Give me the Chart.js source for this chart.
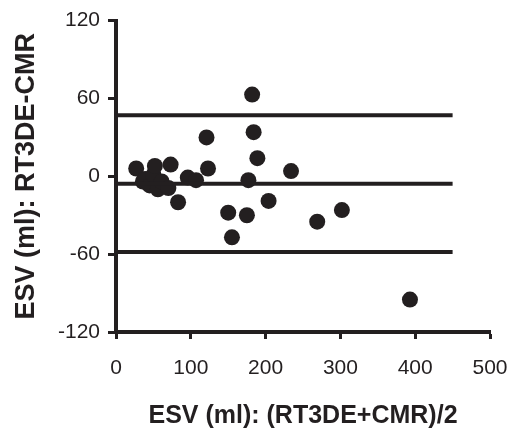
<!DOCTYPE html>
<html>
<head>
<meta charset="utf-8">
<script src="https://cdn.jsdelivr.net/npm/chart.js@4/dist/chart.umd.min.js"></script>
<style>
  html, body { margin: 0; padding: 0; background: #fff; }
  #wrap { width: 508px; height: 430px; position: relative; }
</style>
</head>
<body>
<div id="wrap"><canvas id="esvChart"></canvas></div>
<script>
// Bland-Altman: mean of the two methods vs their difference (ml)
const meanEsv = [27, 36, 39, 45, 50, 52, 56, 61, 70, 73, 83, 96, 107, 121, 123,
                 150, 155, 175, 177, 182, 184, 189, 204, 234, 269, 302, 393];
const diffEsv = [6, -4, -2, -7, 1, 8, -10, -4, -9, 9, -20, -1, -3, 30, 6,
                 -28, -47, -30, -3, 63, 34, 14, -19, 4, -35, -26, -95];

const xTicks = [0, 100, 200, 300, 400, 500];
const yTicks = [-120, -60, 0, 60, 120];

// bias and limits of agreement
const bias = -5.7;
const upperLimit = 47;
const lowerLimit = -58.4;
const lineStart = 0;
const lineEnd = 450;

const ink = '#231f20';
const face = 'Liberation Sans, Arial, sans-serif';

const points = meanEsv.map((x, i) => ({ x: x, y: diffEsv[i] }));
const hLine = (y) => [{ x: lineStart, y: y }, { x: lineEnd, y: y }];

const lineStyle = {
  type: 'line',
  borderColor: ink,
  borderWidth: 4,
  pointRadius: 0,
  fill: false,
  tension: 0
};

const ctx = document.getElementById('esvChart').getContext('2d');
new Chart(ctx, {
  type: 'scatter',
  data: {
    datasets: [
      { ...lineStyle, data: hLine(upperLimit) },
      { ...lineStyle, data: hLine(bias) },
      { ...lineStyle, data: hLine(lowerLimit) },
      {
        data: points,
        pointRadius: 8,
        pointHoverRadius: 8,
        backgroundColor: ink,
        borderWidth: 0
      }
    ]
  },
  options: {
    responsive: true,
    maintainAspectRatio: false,
    animation: false,
    devicePixelRatio: 1,
    layout: { padding: { top: 18, right: 0, bottom: 0, left: 0 } },
    plugins: { legend: { display: false }, tooltip: { enabled: false } },
    scales: {
      x: {
        type: 'linear',
        min: 0,
        max: 500,
        afterFit: (s) => { s.height = 98; s.paddingRight = 18; s.paddingLeft = 0; },
        afterBuildTicks: (s) => { s.ticks = xTicks.map(v => ({ value: v })); },
        border: { display: true, width: 4, color: ink },
        grid: { display: true, drawOnChartArea: false, drawTicks: true,
                tickLength: 7, tickWidth: 3, tickColor: ink, color: ink },
        ticks: { color: ink, padding: 17, font: { family: face, size: 21 } },
        title: {
          display: true,
          text: 'ESV (ml): (RT3DE+CMR)/2',
          color: ink,
          padding: { top: 0, bottom: -1 },
          font: { family: face, size: 25, weight: 'bold' }
        }
      },
      y: {
        type: 'linear',
        min: -120,
        max: 120,
        afterFit: (s) => { s.width = 116; },
        afterBuildTicks: (s) => { s.ticks = yTicks.map(v => ({ value: v })); },
        border: { display: true, width: 4, color: ink },
        grid: { display: true, drawOnChartArea: false, drawTicks: true,
                tickLength: 8, tickWidth: 3, tickColor: ink, color: ink },
        ticks: { color: ink, padding: 8, font: { family: face, size: 21 } },
        title: {
          display: true,
          text: 'ESV (ml): RT3DE-CMR',
          color: ink,
          padding: { top: 10, bottom: 0 },
          font: { family: face, size: 27, weight: 'bold' }
        }
      }
    }
  }
});
</script>
</body>
</html>
